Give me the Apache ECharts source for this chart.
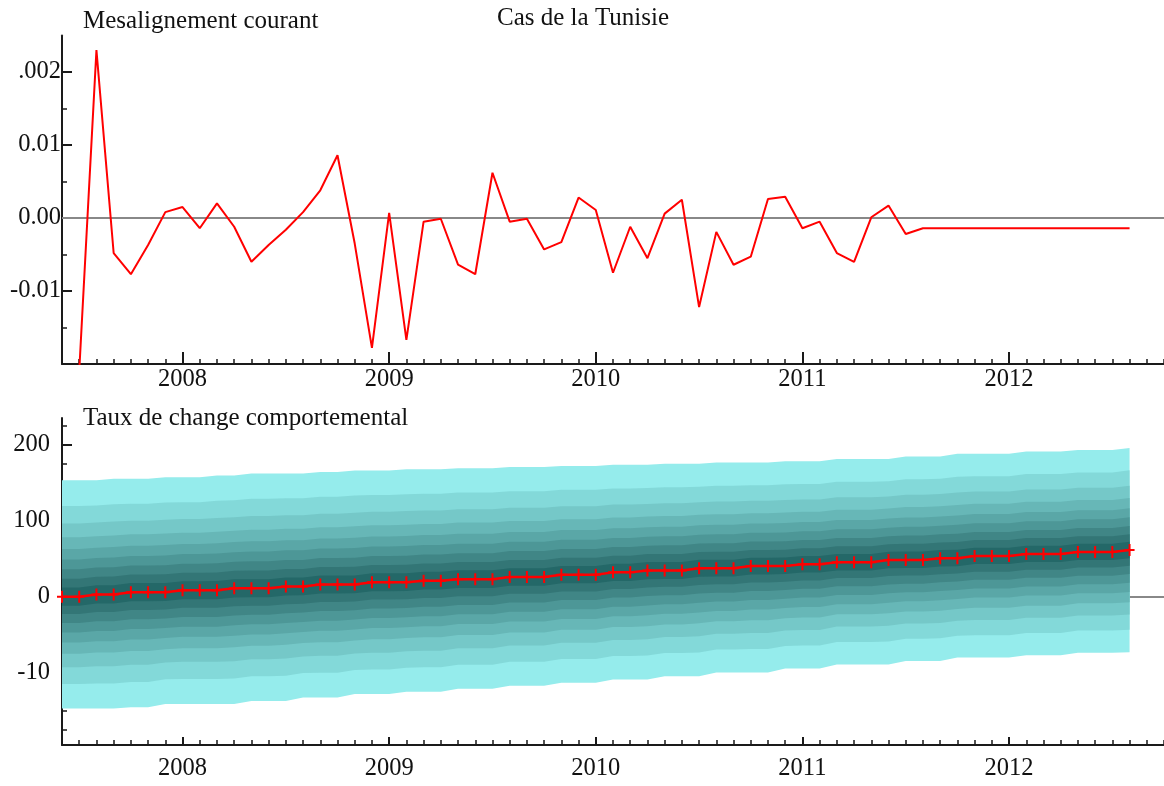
<!DOCTYPE html>
<html><head><meta charset="utf-8">
<script src="https://cdn.jsdelivr.net/npm/echarts@6.0.0/dist/echarts.min.js"></script>
<style>html,body{margin:0;padding:0;background:#fff}#c{width:1164px;height:786px}</style>
</head><body><div id="c"></div>
<script>
// Monthly categories (June 2007 – October 2012)
const months = [
 '2007-06','2007-07','2007-08','2007-09','2007-10','2007-11','2007-12',
 '2008-01','2008-02','2008-03','2008-04','2008-05','2008-06','2008-07','2008-08','2008-09','2008-10','2008-11','2008-12',
 '2009-01','2009-02','2009-03','2009-04','2009-05','2009-06','2009-07','2009-08','2009-09','2009-10','2009-11','2009-12',
 '2010-01','2010-02','2010-03','2010-04','2010-05','2010-06','2010-07','2010-08','2010-09','2010-10','2010-11','2010-12',
 '2011-01','2011-02','2011-03','2011-04','2011-05','2011-06','2011-07','2011-08','2011-09','2011-10','2011-11','2011-12',
 '2012-01','2012-02','2012-03','2012-04','2012-05','2012-06','2012-07','2012-08','2012-09','2012-10'
];

// Top panel: Mesalignement courant
const mesalignement = [
 null, -0.021, 0.023, -0.0048, -0.0077, -0.0037, 0.0008,
 0.0015, -0.0014, 0.002, -0.0012, -0.006, -0.0037, -0.0016, 0.0008, 0.0038, 0.0086, -0.0035, -0.0178,
 0.0007, -0.0167, -0.0005, -0.0001, -0.0064, -0.0077, 0.0062, -0.0005, -0.0001, -0.0043, -0.0033, 0.0028,
 0.0011, -0.0075, -0.0012, -0.0055, 0.0006, 0.0025, -0.0122, -0.0019, -0.0064, -0.0053, 0.0026, 0.0029,
 -0.0014, -0.0005, -0.0048, -0.006, 0.0001, 0.0017, -0.0022, -0.0014, -0.0014, -0.0014, -0.0014, -0.0014,
 -0.0014, -0.0014, -0.0014, -0.0014, -0.0014, -0.0014, -0.0014, -0.0014, null, null
];

// Bottom panel: Taux de change comportemental (central path + outer fan edges)
const fanCenter = [
 0, 0, 3, 3, 6, 6, 6,
 8.5, 8.5, 8.5, 11, 11, 11, 13.5, 13.5, 16, 16, 16, 19,
 19, 19, 21, 21, 23, 23, 23, 26, 26, 26, 29, 29,
 29, 32, 32, 34.5, 34.5, 34.5, 37.5, 37.5, 37.5, 40.5, 40.5, 40.5,
 42.7, 42.7, 45.3, 45.3, 45.3, 48.4, 48.4, 48.4, 50.6, 50.6, 53.6, 53.6,
 53.6, 56.2, 56.2, 56.2, 58.8, 58.8, 58.8, 61.4, null, null
];
const fanUpper = [
 153, 153, 153, 155, 155, 155, 157,
 157, 157, 159.5, 159.5, 162, 162, 162, 162, 164, 164, 166, 166,
 166, 167.5, 167.5, 167.5, 169, 169, 169, 170.5, 170.5, 170.5, 172, 172,
 172, 173.5, 173.5, 173.5, 175, 175, 175, 176.5, 176.5, 176.5, 176.5, 178,
 178, 178, 181, 181, 181, 181, 184.5, 184.5, 184.5, 188, 188, 188,
 188, 191, 191, 191, 193, 193, 193, 195.7, null, null
];
const fanLower = [
 -147, -147, -147, -147, -145.5, -145.5, -141,
 -141, -141, -141, -141, -137, -137, -137, -132.5, -132.5, -132.5, -128, -128,
 -128, -125, -125, -125, -121, -121, -121, -117, -117, -117, -113, -113,
 -113, -109, -109, -109, -104.5, -104.5, -104.5, -99.5, -99.5, -99.5, -99.5, -94.5,
 -94.5, -94.5, -89, -89, -89, -89, -84.5, -84.5, -84.5, -80, -80, -80,
 -80, -77, -77, -77, -73.6, -73.6, -73.6, -73, null, null
];
// share of the outer half-width reached by each band edge (inner -> outer)
const fanShares = [0.08, 0.155, 0.235, 0.32, 0.41, 0.51, 0.63, 0.78, 1.0];

// Tick labels
const topTickValues = [-0.01, 0, 0.01, 0.02];
const topTickLabels = ['-0.01', '0.00', '0.01', '.002'];
const topMinorValues = [-0.015, -0.005, 0.005, 0.015];
const botTickValues = [-100, 0, 100, 200];
const botTickLabels = ['-10', '0', '100', '200'];
const botMinorValues = [-175, -150, -125, -75, -50, -25, 25, 50, 75, 125, 150, 175, 225];

const fanColors = ['#95ECEC', '#83D9D9', '#75C8C8', '#67B7B7', '#5AA7A7', '#4D9797', '#408686', '#337676', '#246868']; // outer -> inner

const FONT = 'Liberation Serif';
const INK = '#1a1a1a';
const isJan = (i, v) => String(v).slice(5) === '01';
const lookup = (vals, labs) => v => { for (let i = 0; i < vals.length; i++) if (Math.abs(vals[i] - v) < 1e-9) return labs[i]; return ''; };

function xAxes(grid, majorLen, labelMargin) {
  return [
    { gridIndex: grid, type: 'category', data: months, boundaryGap: false, position: 'bottom',
      axisLine: { show: true, onZero: false, lineStyle: { color: INK, width: 2 } },
      axisTick: { show: true, inside: true, length: majorLen, interval: isJan, lineStyle: { color: INK, width: 2 } },
      axisLabel: { show: true, interval: isJan, formatter: v => String(v).slice(0, 4), margin: labelMargin,
        fontFamily: FONT, fontSize: 24.5, color: '#111' },
      splitLine: { show: false } },
    { gridIndex: grid, type: 'category', data: months, boundaryGap: false, position: 'bottom',
      axisLine: { show: false, onZero: false },
      axisTick: { show: true, inside: true, length: 5, interval: 0, lineStyle: { color: INK, width: 1.5 } },
      axisLabel: { show: false }, splitLine: { show: false } }
  ];
}
function yAxes(grid, min, max, vals, labs, minor, labelMargin) {
  return [
    { gridIndex: grid, type: 'value', min: min, max: max, position: 'left',
      axisLine: { show: true, onZero: false, lineStyle: { color: INK, width: 2 } },
      axisTick: { show: true, inside: true, length: 10, customValues: vals, lineStyle: { color: INK, width: 2 } },
      axisLabel: { show: true, customValues: vals, formatter: lookup(vals, labs), margin: labelMargin,
        fontFamily: FONT, fontSize: 24.5, color: '#111' },
      splitLine: { show: false } },
    { gridIndex: grid, type: 'value', min: min, max: max, position: 'left',
      axisLine: { show: false, onZero: false },
      axisTick: { show: true, inside: true, length: 5, customValues: minor, lineStyle: { color: INK, width: 1.5 } },
      axisLabel: { show: false }, splitLine: { show: false } }
  ];
}

const zeroLine = (z) => ({ silent: true, z: z, symbol: ['none', 'none'], label: { show: false },
  lineStyle: { color: '#888', width: 2, type: 'solid' }, data: [{ yAxis: 0 }] });

const series = [];
series.push({ type: 'line', xAxisIndex: 0, yAxisIndex: 0, data: mesalignement, symbol: 'none',
  lineStyle: { color: '#ff0000', width: 2 }, itemStyle: { color: '#ff0000' }, z: 3, markLine: zeroLine(1) });

series.push({ type: 'line', xAxisIndex: 2, yAxisIndex: 2, data: months.map(() => null), symbol: 'none', z: 1, silent: true, markLine: zeroLine(1) });

for (let k = fanShares.length - 1; k >= 0; k--) {
  const f = fanShares[k];
  const lo = fanCenter.map((c, i) => c == null ? null : c - f * (c - fanLower[i]));
  const hi = fanCenter.map((c, i) => c == null ? null : c + f * (fanUpper[i] - c));
  const diff = hi.map((h, i) => h == null ? null : h - lo[i]);
  const common = { type: 'line', xAxisIndex: 2, yAxisIndex: 2, stack: 'band' + k, stackStrategy: 'all',
    symbol: 'none', showSymbol: false, lineStyle: { width: 0, opacity: 0 }, silent: true, z: 2 };
  series.push(Object.assign({}, common, { data: lo }));
  series.push(Object.assign({}, common, { data: diff, areaStyle: { color: fanColors[fanShares.length - 1 - k], opacity: 1 } }));
}

series.push({ type: 'line', xAxisIndex: 2, yAxisIndex: 2, data: fanCenter,
  symbol: 'path://M4,0 h2 v5 h4 v2 h-4 v5 h-2 v-5 h-4 v-2 h4 z', symbolSize: [10, 12], showAllSymbol: true,
  lineStyle: { color: '#ff0000', width: 2.5 }, itemStyle: { color: '#ff0000' }, z: 5 });

const titleStyle = { fontFamily: FONT, fontSize: 25, fontWeight: 'normal', color: '#111' };
const chart = echarts.init(document.getElementById('c'), null, { renderer: 'canvas' });
chart.setOption({
  animation: false,
  backgroundColor: '#fff',
  title: [
    { text: 'Mesalignement courant', left: 83, top: 9, padding: 0, textStyle: titleStyle },
    { text: 'Cas de la Tunisie', left: 497, top: 6, padding: 0, textStyle: titleStyle },
    { text: 'Taux de change comportemental', left: 83, top: 406, padding: 0, textStyle: titleStyle }
  ],
  grid: [
    { left: 62, right: -2, top: 35.5, bottom: 422 },
    { left: 62, right: -2, top: 418, bottom: 41 }
  ],
  xAxis: [].concat(xAxes(0, 12, 3), xAxes(1, 8, 11)),
  yAxis: [].concat(
    yAxes(0, -0.02, 0.025, topTickValues, topTickLabels, topMinorValues, 1),
    yAxes(1, -195, 235, botTickValues, botTickLabels, botMinorValues, 12)
  ),
  series: series
});
</script>
</body></html>
